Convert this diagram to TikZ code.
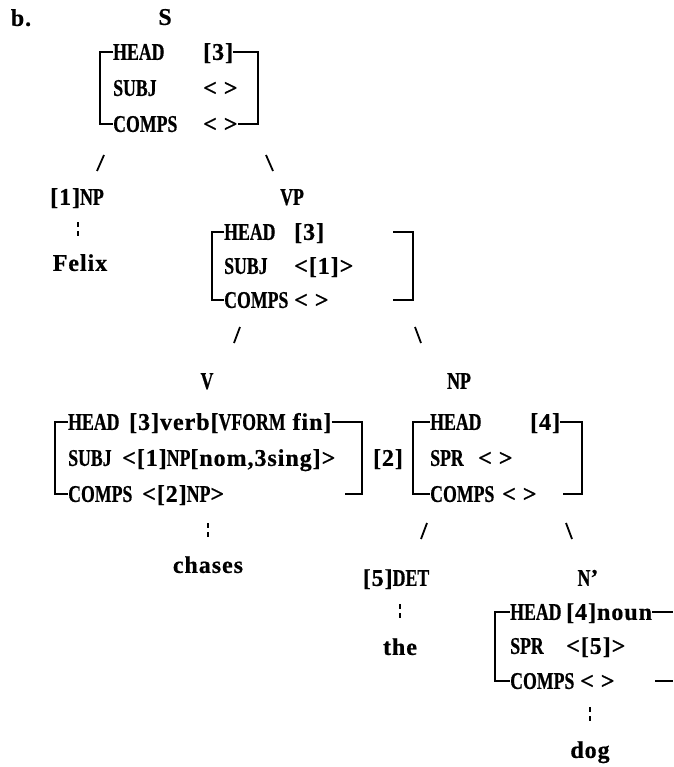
\documentclass[tikz,border=0pt]{standalone}
\usepackage{fontspec}
\setmainfont{Liberation Serif}[LetterSpace=4, BoldFeatures={FakeBold=0.6}]
\newfontfamily\featfont{Liberation Serif}[FakeStretch=0.74, BoldFeatures={FakeBold=0.6}]
\begin{document}
\begin{tikzpicture}[x=1pt,y=-1pt]
\tikzset{
  txt/.style={inner sep=0pt, text height=15.8pt, text depth=0pt,
              font=\fontsize{24}{28}\selectfont\bfseries},
  feat/.style={txt, anchor=west, font=\fontsize{24}{28}\selectfont\featfont\bfseries},
  val/.style={txt, anchor=west},
  cat/.style={txt},
  brk/.style={line width=1.6pt},
  branch/.style={line width=1.8pt},
  dots/.style={line width=1.8pt, dash pattern=on 5pt off 4pt},
}
\useasboundingbox (0,0) rectangle (673,767);

% ---------- S ----------
\node[cat] (lab) at (21,18) {b.};
\node[cat] (S) at (165,17) {S};
\coordinate (aL) at (100,0);
\coordinate (aR) at (258,0);
\node[feat] (ah) at (113,52) {HEAD};
\node[feat] (as) at (113,88) {SUBJ};
\node[feat] (ac) at (113,124) {COMPS};
\node[val] (ahv) at (203,52) {[3]};
\node[val] (asv) at (203,88) {< >};
\node[val] (acv) at (203,124) {< >};
\draw[brk] (ah.west) -- (ah.west -| aL) -- (ac.west -| aL) -- (ac.west);
\draw[brk] (ahv.east) -- (ahv.east -| aR) -- (acv.east -| aR) -- (acv.east);

\coordinate (s1a) at (104,155); \coordinate (s1b) at (97,171);
\coordinate (s2a) at (266,155); \coordinate (s2b) at (273,171);
\draw[branch] (s1a) -- (s1b);
\draw[branch] (s2a) -- (s2b);

% ---------- subject NP ----------
\node[cat] (np1) at (77,197) {[1]{\featfont NP}};
\coordinate (d1a) at (78,222); \coordinate (d1b) at (78,239);
\draw[dots] (d1a) -- (d1b);
\node[cat] (felix) at (80,263) {Felix};

% ---------- VP ----------
\node[cat] (vp) at (292,197) {\featfont VP};
\coordinate (bL) at (212,0);
\coordinate (bR) at (413,0);
\node[feat] (bh) at (224,232) {HEAD};
\node[feat] (bs) at (224,266) {SUBJ};
\node[feat] (bc) at (224,300) {COMPS};
\node[val] (bhv) at (294,232) {[3]};
\node[val] (bsv) at (294,266) {<[1]>};
\node[val] (bcv) at (294,300) {< >};
\coordinate (bRt) at (393,232);
\coordinate (bRb) at (393,300);
\draw[brk] (bh.west) -- (bh.west -| bL) -- (bc.west -| bL) -- (bc.west);
\draw[brk] (bRt) -- (bRt -| bR) -- (bRb -| bR) -- (bRb);

\coordinate (s3a) at (240,327); \coordinate (s3b) at (234,343);
\coordinate (s4a) at (415,327); \coordinate (s4b) at (421,343);
\draw[branch] (s3a) -- (s3b);
\draw[branch] (s4a) -- (s4b);

% ---------- V ----------
\node[cat] (v) at (207,381) {\featfont V};
\coordinate (cL) at (55,0);
\coordinate (cR) at (362,0);
\node[feat] (ch) at (68,422) {HEAD};
\node[feat] (cs) at (68,458) {SUBJ};
\node[feat] (cc) at (68,494) {COMPS};
\node[val] (chv) at (129,422) {[3]verb[{\featfont VFORM} fin]};
\node[val] (csv) at (122,458) {<[1]{\featfont NP}[nom,3sing]>};
\node[val] (ccv) at (142,494) {<[2]{\featfont NP}>};
\coordinate (cRb) at (345,494);
\draw[brk] (ch.west) -- (ch.west -| cL) -- (cc.west -| cL) -- (cc.west);
\draw[brk] (chv.east) -- (chv.east -| cR) -- (cRb -| cR) -- (cRb);
\node[cat] (tag2) at (388,458) {[2]};

\coordinate (d2a) at (208,523); \coordinate (d2b) at (208,540);
\draw[dots] (d2a) -- (d2b);
\node[cat] (chases) at (208,565) {chases};

% ---------- object NP ----------
\node[cat] (np2) at (459,381) {\featfont NP};
\coordinate (dL) at (413,0);
\coordinate (dR) at (582,0);
\node[feat] (dh) at (430,422) {HEAD};
\node[feat] (ds) at (430,458) {SPR};
\node[feat] (dc) at (430,494) {COMPS};
\node[val] (dhv) at (530,422) {[4]};
\node[val] (dsv) at (478,458) {< >};
\node[val] (dcv) at (502,494) {< >};
\coordinate (dRb) at (563,494);
\draw[brk] (dh.west) -- (dh.west -| dL) -- (dc.west -| dL) -- (dc.west);
\draw[brk] (dhv.east) -- (dhv.east -| dR) -- (dRb -| dR) -- (dRb);

\coordinate (s5a) at (427,523); \coordinate (s5b) at (421,539);
\coordinate (s6a) at (566,523); \coordinate (s6b) at (572,539);
\draw[branch] (s5a) -- (s5b);
\draw[branch] (s6a) -- (s6b);

% ---------- determiner ----------
\node[cat] (det) at (396,578) {[5]{\featfont DET}};
\coordinate (d3a) at (400,604); \coordinate (d3b) at (400,621);
\draw[dots] (d3a) -- (d3b);
\node[cat] (the) at (400,647) {the};

% ---------- N' ----------
\node[cat] (nbar) at (588,578) {{\featfont N}'};
\coordinate (eL) at (495,0);
\node[feat] (eh) at (510,612) {HEAD};
\node[feat] (es) at (510,646) {SPR};
\node[feat] (ec) at (510,681) {COMPS};
\node[val] (ehv) at (566,612) {[4]noun};
\node[val] (esv) at (566,646) {<[5]>};
\node[val] (ecv) at (580,681) {< >};
\coordinate (eRt) at (673,612);
\coordinate (eRa) at (655,681);
\coordinate (eRb) at (673,681);
\draw[brk] (eh.west) -- (eh.west -| eL) -- (ec.west -| eL) -- (ec.west);
\draw[brk] (ehv.east) -- (eRt);
\draw[brk] (eRa) -- (eRb);

\coordinate (d4a) at (590,707); \coordinate (d4b) at (590,724);
\draw[dots] (d4a) -- (d4b);
\node[cat] (dog) at (590,750) {dog};
\end{tikzpicture}
\end{document}
